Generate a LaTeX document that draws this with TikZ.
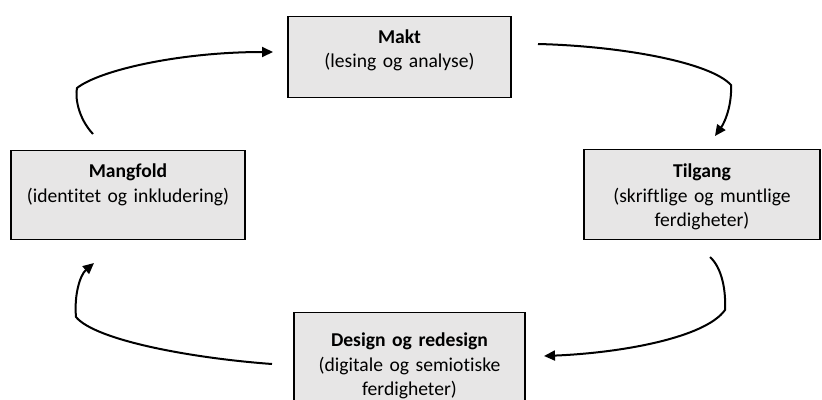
\documentclass[tikz,border=0pt]{standalone}
\usepackage{fontspec}
\setmainfont{Carlito}[Ligatures={TeX,NoCommon}]
\usepackage{xcolor}
\usepackage{tikz}
\usetikzlibrary{arrows.meta}
\definecolor{boxgray}{RGB}{231,230,230}

\begin{document}
\begin{tikzpicture}[x=1pt, y=-1pt,
    box/.style={draw, line width=1.3pt, fill=boxgray, anchor=north, align=center,
        inner xsep=0pt, inner ysep=0pt, font=\fontsize{19.6}{24.5}\selectfont},
    flow/.style={line width=2pt, -{Triangle[length=11pt, width=10pt]}}]
    \useasboundingbox (0,0) rectangle (822,399);

    % Boxes
    \node[box, text width=223pt, text height=26.5pt, text depth=54.5pt] (makt) at (399.5,16) {\textbf{Makt}\\(lesing og analyse)};
    \node[box, text width=234pt, text height=27pt, text depth=62pt] (mangfold) at (128,150) {\textbf{Mangfold}\\(identitet og inkludering)};
    \node[box, text width=236pt, text height=28pt, text depth=62pt] (tilgang) at (702,149) {\textbf{Tilgang}\\(skriftlige og muntlige\\ferdigheter)};
    \node[box, text width=231pt, text height=34pt, text depth=58pt] (design) at (409.5,312) {\textbf{Design og redesign}\\(digitale og semiotiske\\ferdigheter)};

    % Arrow ends
    \coordinate (a1) at (93,134);
    \coordinate (k1) at (77,88);
    \coordinate (b1) at (273,52);
    \coordinate (a2) at (538,44);
    \coordinate (k2) at (731,85);
    \coordinate (b2) at (715,136);
    \coordinate (a3) at (710,257);
    \coordinate (k3) at (725,310);
    \coordinate (b3) at (544,356);
    \coordinate (a4) at (272,364);
    \coordinate (k4) at (76,317);
    \coordinate (b4) at (94,263);

    % Arrows
    \draw[flow] (a1) .. controls (78,118) and (75,97) .. (k1) .. controls (100,70) and (180,52) .. (b1);
    \draw[flow] (a2) .. controls (620,46) and (710,62) .. (k2) .. controls (732,105) and (725,122) .. (b2);
    \draw[flow] (a3) .. controls (722,268) and (726,290) .. (k3) .. controls (705,338) and (620,353) .. (b3);
    \draw[flow] (a4) .. controls (190,358) and (95,340) .. (k4) .. controls (74,295) and (80,275) .. (b4);
\end{tikzpicture}
\end{document}
